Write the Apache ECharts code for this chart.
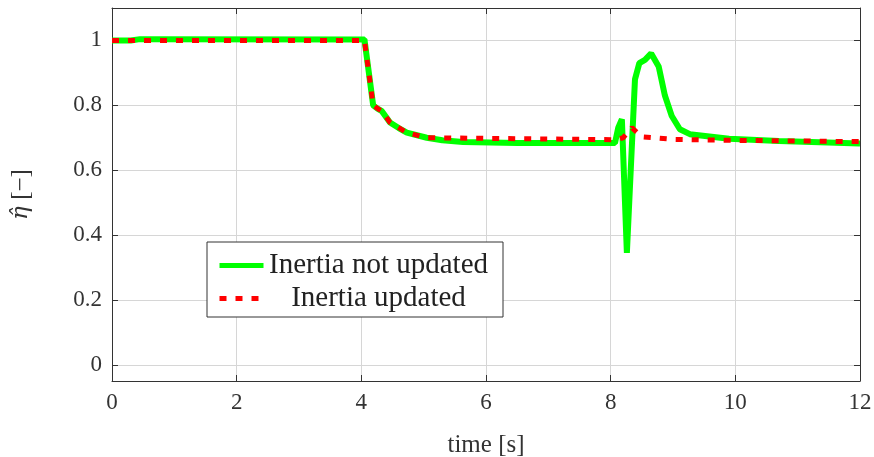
<!DOCTYPE html>
<html>
<head>
<meta charset="utf-8">
<script src="https://cdn.jsdelivr.net/npm/echarts@6/dist/echarts.min.js"></script>
<style>
  html, body { margin: 0; padding: 0; background: #fff; }
  #chart { width: 874px; height: 457px; }
</style>
</head>
<body>
<div id="chart"></div>
<script>
// values
const timeNotUpdated = [0, 0.3, 0.45, 4.05, 4.19, 4.26, 4.33, 4.46, 4.6, 4.73, 5.05, 5.3, 5.63, 6.5, 8.07, 8.12, 8.18, 8.26, 8.39, 8.46, 8.55, 8.65, 8.77, 8.87, 8.98, 9.11, 9.27, 9.9, 10.7, 12];
const etaNotUpdated  = [1, 1.0, 1.004, 1.003, 0.80, 0.79, 0.782, 0.747, 0.73, 0.716, 0.70, 0.692, 0.687, 0.684, 0.684, 0.73, 0.757, 0.345, 0.88, 0.93, 0.94, 0.96, 0.92, 0.83, 0.767, 0.726, 0.711, 0.697, 0.69, 0.682];
const timeUpdated = [0, 4.05, 4.19, 4.26, 4.33, 4.46, 4.73, 5.05, 6, 8.1, 8.2, 8.34, 8.5, 9, 10, 12];
const etaUpdated  = [1, 1.0, 0.80, 0.79, 0.782, 0.747, 0.716, 0.70, 0.698, 0.694, 0.70, 0.731, 0.703, 0.695, 0.692, 0.688];
const yTicks = [0, 0.2, 0.4, 0.6, 0.8, 1];

const pairs = (t, v) => t.map((x, i) => [x, v[i]]);

const font = 'Liberation Serif';
const dark = '#333';

const chart = echarts.init(document.getElementById('chart'));
chart.setOption({
  animation: false,
  grid: { left: 112, right: 14, top: 8, bottom: 76, outerBoundsMode: 'none' },
  legend: {
    left: 207,
    top: 242,
    orient: 'vertical',
    backgroundColor: '#fff',
    borderColor: dark,
    borderWidth: 1,
    padding: [9, 15, 4, 10],
    itemWidth: 44,
    itemHeight: 14,
    itemGap: 4,
    itemStyle: { opacity: 0 },
    lineStyle: { width: 5 },
    textStyle: {
      fontFamily: font,
      fontSize: 29,
      color: '#222',
      rich: { c: { fontFamily: font, fontSize: 29, color: '#222', width: 220, align: 'center' } }
    },
    formatter: n => '{c|' + n + '}',
    data: ['Inertia not updated', 'Inertia updated']
  },
  xAxis: [{
    type: 'value', min: 0, max: 12, interval: 2,
    name: 'time [s]', nameLocation: 'middle', nameGap: 52,
    nameTextStyle: { fontFamily: font, fontSize: 25, color: dark },
    axisLine: { onZero: false, lineStyle: { color: dark, width: 1 } },
    axisTick: { inside: true, length: 6, lineStyle: { color: dark } },
    axisLabel: { fontFamily: font, fontSize: 23, color: dark, margin: 10 },
    splitLine: { lineStyle: { color: '#d6d6d6', width: 1 } }
  }, {
    type: 'value', min: 0, max: 12, interval: 2, position: 'top',
    axisLine: { onZero: false, lineStyle: { color: dark, width: 1 } },
    axisTick: { inside: true, length: 6, lineStyle: { color: dark } },
    axisLabel: { show: false },
    splitLine: { show: false }
  }],
  yAxis: [{
    type: 'value', min: -0.05, max: 1.1,
    name: '{i|\u03B7\u0302} [\u2212]', nameLocation: 'middle', nameGap: 78,
    nameTextStyle: {
      fontFamily: font, fontSize: 25, color: dark,
      rich: { i: { fontFamily: 'DejaVu Serif', fontSize: 23, color: dark, fontStyle: 'italic' } }
    },
    axisLine: { show: true, onZero: false, lineStyle: { color: dark, width: 1 } },
    axisTick: { inside: true, length: 6, lineStyle: { color: dark }, customValues: yTicks },
    axisLabel: { fontFamily: font, fontSize: 23, color: dark, margin: 10, customValues: yTicks },
    splitLine: { lineStyle: { color: '#d6d6d6', width: 1 } }
  }, {
    type: 'value', min: -0.05, max: 1.1, position: 'right',
    axisLine: { show: true, onZero: false, lineStyle: { color: dark, width: 1 } },
    axisTick: { inside: true, length: 6, lineStyle: { color: dark }, customValues: yTicks },
    axisLabel: { show: false },
    splitLine: { show: false }
  }],
  series: [{
    name: 'Inertia not updated',
    type: 'line',
    symbol: 'none',
    data: pairs(timeNotUpdated, etaNotUpdated),
    lineStyle: { color: '#00ff00', width: 6 },
    itemStyle: { color: '#00ff00' }
  }, {
    name: 'Inertia updated',
    type: 'line',
    symbol: 'none',
    data: pairs(timeUpdated, etaUpdated),
    lineStyle: { color: '#ff0000', width: 5, type: [7, 9] },
    itemStyle: { color: '#ff0000' }
  }]
});
</script>
</body>
</html>
